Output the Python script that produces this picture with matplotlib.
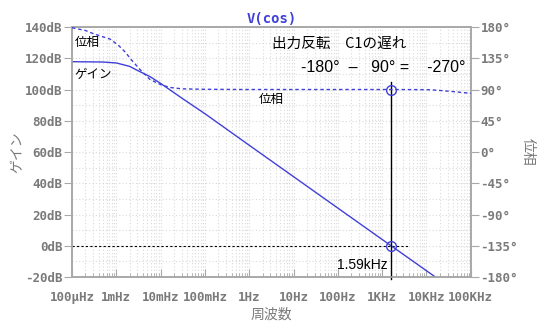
import matplotlib
matplotlib.use("Agg")
import matplotlib.pyplot as plt
from matplotlib.ticker import FixedLocator, LogLocator, NullFormatter

plt.rcParams['font.family'] = ['Noto Sans CJK JP', 'DejaVu Sans']

# gain curve (dB)
gain_f = [1e-4, 5e-4, 1e-3, 2e-3, 3e-3, 5.7e-3, 1e-2, 3e-2, 1e-1, 1, 10, 100, 1000, 1590, 1e4, 1.6e4]
gain_db = [117.8, 117.6, 117.0, 114.8, 112.2, 108.3, 103.9, 94.5, 84.5, 64.3, 44.2, 24.1, 4.0, 0.0, -16.0, -20.1]

# phase curve (deg)
phase_f = [1e-4, 2e-4, 3e-4, 7.2e-4, 1.1e-3, 1.58e-3, 2.3e-3, 3.4e-3, 5.7e-3, 1e-2, 1.6e-2, 3e-2, 1e-1,
           1, 100, 1e3, 1e4, 1.7e4, 3.7e4, 1e5]
phase_deg = [179.0, 175.0, 170.5, 162.6, 154.0, 144.0, 131.0, 119.0, 104.6, 97.0, 93.0, 91.0, 90.3,
             90.0, 90.0, 90.0, 89.8, 89.0, 87.2, 84.5]

cross_f = 1590
dec_labels = ['100µHz', '1mHz', '10mHz', '100mHz', '1Hz', '10Hz', '100Hz', '1KHz', '10KHz', '100KHz']
db_ticks = [-20, 0, 20, 40, 60, 80, 100, 120, 140]
deg_ticks = [-180, -135, -90, -45, 0, 45, 90, 135, 180]

blue = '#4040d8'
gray = '#a8a8a8'
tgray = '#7a7a7a'
mono = 'DejaVu Sans Mono'

fig = plt.figure(figsize=(5.5, 3.36), dpi=100)
ax = fig.add_axes([0.131, 0.1756, 0.725, 0.744])
ax2 = ax.twinx()

ax.set_xscale('log')
ax.set_xlim(1e-4, 1e5)
ax.set_ylim(-20, 140)
ax2.set_ylim(-180, 180)

ax.grid(True, which='both', color='#dadada', linestyle=(0, (1, 2)), linewidth=0.8)
ax.yaxis.set_minor_locator(FixedLocator(list(range(-20, 141, 10))))

ax.plot(gain_f, gain_db, color=blue, linewidth=1.0, zorder=3)
ax2.plot(phase_f, phase_deg, color=blue, linewidth=1.0, linestyle=(0, (2.5, 2)), zorder=3)

# 0dB reference and the crossover marker
ax.plot([1e-4, 3.8e3], [0, 0], color='black', linewidth=0.8, linestyle=(0, (2, 2)), zorder=2)
ax.plot([cross_f, cross_f], [104.5, -21], color='black', linewidth=1.0, clip_on=False, zorder=4)
ax.plot([cross_f], [0], marker='o', markersize=7, markerfacecolor='none', markeredgecolor=blue, zorder=5)
ax2.plot([cross_f], [90], marker='o', markersize=7, markerfacecolor='none', markeredgecolor=blue, zorder=5)

# ticks
ax.set_xticks([10.0 ** k for k in range(-4, 6)])
ax.set_xticklabels(dec_labels)
ax.xaxis.set_minor_locator(LogLocator(base=10, subs=range(2, 10), numticks=20))
ax.xaxis.set_minor_formatter(NullFormatter())
ax.set_yticks(db_ticks)
ax.set_yticklabels([f'{v}dB' for v in db_ticks])
ax2.set_yticks(deg_ticks)
ax2.set_yticklabels([f'{v}°' for v in deg_ticks])

ax.tick_params(axis='x', which='major', direction='in', length=6, color=gray, labelcolor=tgray, labelsize=9, pad=10)
ax.tick_params(axis='x', which='minor', direction='in', length=3, color=gray)
ax.tick_params(axis='y', which='major', direction='out', length=6, color=gray, labelcolor=tgray, labelsize=9, pad=1)
ax.tick_params(axis='y', which='minor', length=0)
ax2.tick_params(axis='y', direction='out', length=6, color=gray, labelcolor=tgray, labelsize=9, pad=1)
for lab in ax.get_xticklabels() + ax.get_yticklabels() + ax2.get_yticklabels():
    lab.set_family(mono)
    lab.set_fontweight('bold')

for a in (ax, ax2):
    for s in a.spines.values():
        s.set_color(gray)
        s.set_linewidth(1.2)

ax.set_title('V(cos)', color=blue, fontsize=10, family=mono, fontweight='bold', pad=3)
ax.set_xlabel('周波数', color=tgray, fontsize=10, labelpad=3)
ax.set_ylabel('ゲイン', color=tgray, fontsize=10, labelpad=0)
ax2.set_ylabel('位相', color=tgray, fontsize=10, rotation=270, labelpad=12)

# annotations
ax.text(1.15e-4, 130.3, '位相', fontsize=9, va='center')
ax.text(1.15e-4, 109.7, 'ゲイン', fontsize=9, va='center')
ax.text(1.6, 93.5, '位相', fontsize=9, va='center')
ax.text(3.2, 129.3, '出力反転　C1の遅れ', fontsize=10.5, va='center')
ax.text(15, 114, '-180°  –   90° =    -270°', fontsize=11.5, va='center', family=['Liberation Sans', 'DejaVu Sans'])
ax.text(1300, -12.3, '1.59kHz', fontsize=10, ha='right', va='center', family=['Liberation Sans', 'DejaVu Sans'])

fig.savefig('out.png', dpi=100)
